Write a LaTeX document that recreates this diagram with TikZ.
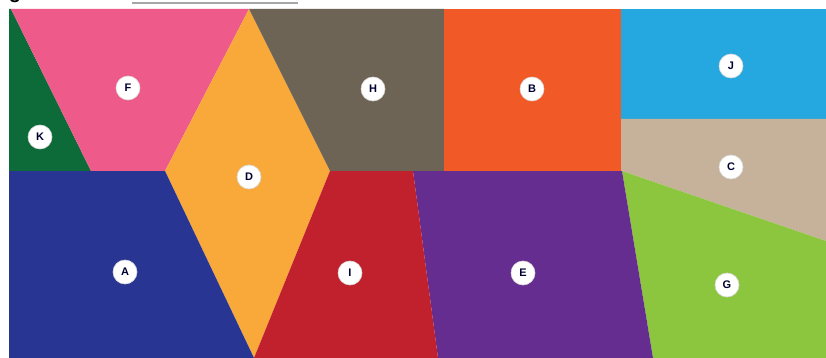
\documentclass[tikz,border=0pt]{standalone}
\usepackage{fontspec}
\setmainfont{Liberation Sans}
\begin{document}
\begin{tikzpicture}[x=1pt,y=-1pt,
  region/.style={draw=none},
  tag/.style={circle,fill=white,draw=white!85!black,line width=0.6pt,minimum size=24pt,inner sep=0pt,
    font=\fontsize{11}{11}\selectfont\bfseries,text=black!80!blue}]
\definecolor{cK}{HTML}{0C6B38}
\definecolor{cF}{HTML}{EE5A89}
\definecolor{cD}{HTML}{F9A83A}
\definecolor{cH}{HTML}{6E6455}
\definecolor{cB}{HTML}{F15A26}
\definecolor{cJ}{HTML}{25A7DF}
\definecolor{cC}{HTML}{C6B29A}
\definecolor{cG}{HTML}{8CC63F}
\definecolor{cE}{HTML}{662D91}
\definecolor{cI}{HTML}{C1202D}
\definecolor{cA}{HTML}{283593}
\useasboundingbox (0,0) rectangle (826,358);
\fill[white] (0,0) rectangle (826,358);
% title remnants at the top
\begin{scope}
\clip (0,0) rectangle (826,9);
\node[anchor=base,font=\fontsize{20}{20}\selectfont\bfseries,inner sep=0pt] (ttl) at (15,-1) {g};
\end{scope}
\coordinate (ul1) at (132,3);
\coordinate (ul2) at (298,3);
\draw[gray!70,line width=1.4pt] (ul1) -- (ul2);
% regions
\fill[cK,region] (9,9) -- (11,9) -- (91,171) -- (9,171) -- cycle;
\fill[cF,region] (11,9) -- (249,9) -- (165,171) -- (91,171) -- cycle;
\fill[cD,region] (249,9) -- (330,171) -- (254,358) -- (165,171) -- cycle;
\fill[cH,region] (249,9) -- (444,9) -- (444,171) -- (330,171) -- cycle;
\fill[cB,region] (444,9) -- (621,9) -- (621,171) -- (444,171) -- cycle;
\fill[cJ,region] (621,9) -- (826,9) -- (826,119) -- (621,119) -- cycle;
\fill[cC,region] (621,119) -- (826,119) -- (826,241) -- (622,171) -- (621,171) -- cycle;
\fill[cG,region] (622,171) -- (826,241) -- (826,358) -- (653,358) -- cycle;
\fill[cE,region] (413,171) -- (622,171) -- (653,358) -- (438,358) -- cycle;
\fill[cI,region] (330,171) -- (413,171) -- (438,358) -- (254,358) -- cycle;
\fill[cA,region] (9,171) -- (165,171) -- (254,358) -- (9,358) -- cycle;
% labels
\node[tag] (F) at (128,88) {F};
\node[tag] (K) at (40,137) {K};
\node[tag] (D) at (249,177) {D};
\node[tag] (H) at (373,89) {H};
\node[tag] (B) at (532,89) {B};
\node[tag] (J) at (731,66) {J};
\node[tag] (C) at (731,167) {C};
\node[tag] (G) at (727,285) {G};
\node[tag] (A) at (125,272) {A};
\node[tag] (I) at (350,273) {I};
\node[tag] (E) at (523,273) {E};
\end{tikzpicture}
\end{document}
